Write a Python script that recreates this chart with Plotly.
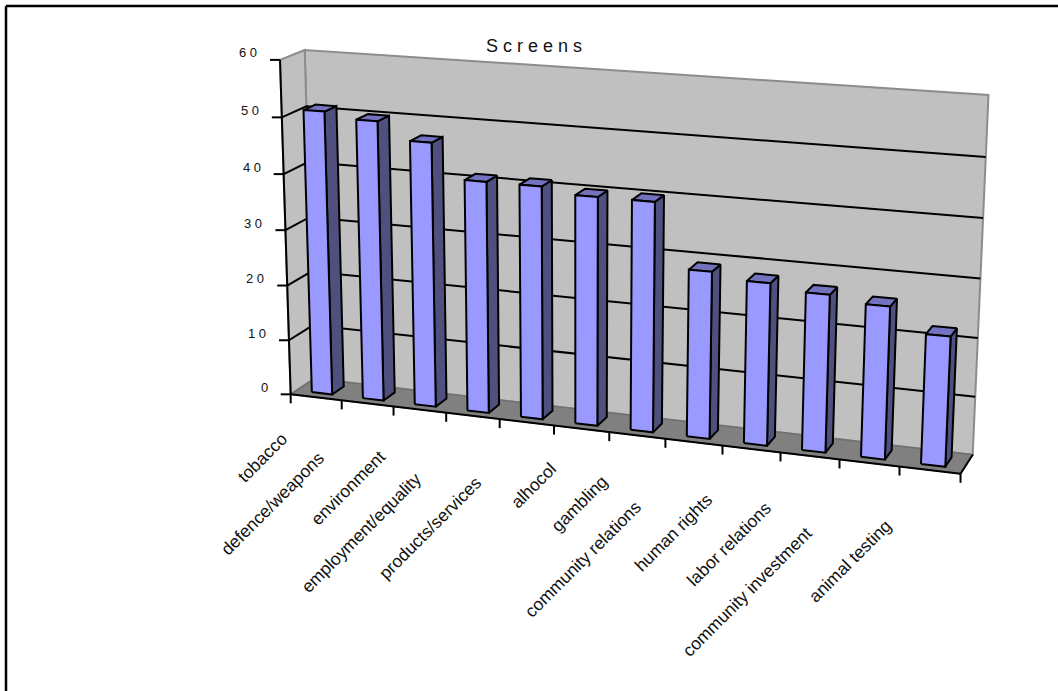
import numpy as np
import plotly.graph_objects as go

# Chart data
categories = ["tobacco", "defence/weapons", "environment", "employment/equality",
              "products/services", "alhocol", "gambling", "community relations",
              "human rights", "labor relations", "community investment", "animal testing"]
screens = [51, 50, 47, 41, 41, 40, 40, 29, 28, 27, 26, 22]
value_ticks = [0, 10, 20, 30, 40, 50, 60]
chart_title = "S c r e e n s"
VMAX = 60

# Centres of the slanted category labels on the page
label_x = [262, 272, 348, 361, 430, 533, 579, 583, 673, 729, 747, 850]
label_y = [458, 504, 488, 533, 528, 486, 504, 559, 533, 544, 592, 561]

WALL, FLOOR, EDGE = "#C0C0C0", "#808080", "#8C8C8C"
FRONT, SIDE, TOP = "#9999FF", "#50507F", "#7272BF"
GAP_U, GAP_D = 0.30, 0.25  # spacing inside a category slot and across the depth

# Camera calibration: box coordinates (across, depth, height) to page pixels
box_refs = [
    ((0, 0, 0), (292, 394)), ((0, 0, 1), (279, 60)),
    ((0, 1, 0), (313, 379)), ((0, 1, 1), (306, 50)),
    ((1, 1, 0), (973, 454)), ((1, 1, 1), (989, 94)),
    ((1, 0, 0), (960, 474)), ((1, 1, 50 / 60), (985, 158)),
    ((1 / 12, 0, 0), (342, 400)), ((3 / 12, 0, 0), (446, 413)),
    ((11 / 12, 0, 0), (900, 467)), ((0, 0, 0.5), (285, 230)),
]


def fit_camera(refs):
    rows = []
    for (a, b, c), (px, py) in refs:
        p = [a, b, c, 1]
        rows.append(p + [0, 0, 0, 0] + [-px * q for q in p])
        rows.append([0, 0, 0, 0] + p + [-py * q for q in p])
    _, _, vt = np.linalg.svd(np.array(rows, float))
    return vt[-1].reshape(3, 4)


CAM = fit_camera(box_refs)


def project(u, d, v):
    """Page position of a point: u across the categories, d depth, v chart value."""
    q = CAM @ np.array([u, d, v / VMAX, 1.0])
    return q[0] / q[2], q[1] / q[2]


def poly(points, **kw):
    xs, ys = zip(*[project(*p) for p in points])
    return go.Scatter(x=list(xs), y=list(ys), mode="lines", hoverinfo="skip", **kw)


def face(points, fill, line="black", width=2):
    closed = list(points) + [points[0]]
    return poly(closed, fill="toself", fillcolor=fill, line=dict(color=line, width=width))


def edge(a, b, color="black", width=2):
    return poly([a, b], line=dict(color=color, width=width))


fig = go.Figure()

# Walls and floor
fig.add_trace(face([(0, 1, 0), (1, 1, 0), (1, 1, VMAX), (0, 1, VMAX)], WALL, EDGE, 2))
fig.add_trace(face([(0, 0, 0), (0, 1, 0), (0, 1, VMAX), (0, 0, VMAX)], WALL, EDGE, 2))
fig.add_trace(face([(0, 0, 0), (1, 0, 0), (1, 1, 0), (0, 1, 0)], FLOOR, "#707070", 1.5))

# Gridlines across the side and back walls
for t in value_ticks[1:-1]:
    fig.add_trace(poly([(0, 0, t), (0, 1, t), (1, 1, t)], line=dict(color="black", width=2)))

# Value axis with its outward ticks
fig.add_trace(edge((0, 0, 0), (0, 0, VMAX)))
fig.add_trace(edge((0, 0, 0), (1, 0, 0)))
fig.add_trace(edge((1, 0, 0), (1, 1, 0)))

tick_x, tick_y = [], []
for t in value_ticks:
    x, y = project(0, 0, t)
    tick_x += [x - 10, x, None]
    tick_y += [y, y, None]
for i in range(len(categories) + 1):
    x, y = project(i / len(categories), 0, 0)
    tick_x += [x, x, None]
    tick_y += [y, y + 9, None]
fig.add_trace(go.Scatter(x=tick_x, y=tick_y, mode="lines", hoverinfo="skip",
                         line=dict(color="black", width=2)))

# One cuboid per category
n = len(categories)
for i, val in enumerate(screens):
    u0 = (i + GAP_U) / n
    u1 = (i + 1 - GAP_U) / n
    d0, d1 = GAP_D, 1 - GAP_D
    fig.add_trace(face([(u1, d0, 0), (u1, d1, 0), (u1, d1, val), (u1, d0, val)], SIDE))
    fig.add_trace(face([(u0, d0, val), (u1, d0, val), (u1, d1, val), (u0, d1, val)], TOP))
    fig.add_trace(face([(u0, d0, 0), (u1, d0, 0), (u1, d0, val), (u0, d0, val)], FRONT))

annotations = []
for t in value_ticks:
    x, y = project(0, 0, t)
    annotations.append(dict(x=x - 21, y=y - 7, text=" ".join(str(t)), showarrow=False,
                            xanchor="right", yanchor="middle",
                            font=dict(size=13, color="#111111")))
for name, x, y in zip(categories, label_x, label_y):
    annotations.append(dict(x=x, y=y, text=name, textangle=-45, showarrow=False,
                            xanchor="center", yanchor="middle",
                            font=dict(size=17.5, color="#111111")))
annotations.append(dict(x=534, y=46, text=chart_title, showarrow=False,
                        xanchor="center", yanchor="middle",
                        font=dict(size=18, color="#111111")))

fig.update_layout(
    width=1058, height=691, margin=dict(l=0, r=0, t=0, b=0),
    paper_bgcolor="white", plot_bgcolor="white", showlegend=False,
    font=dict(family="Liberation Sans"),
    xaxis=dict(range=[0, 1058], visible=False, fixedrange=True),
    yaxis=dict(range=[691, 0], visible=False, fixedrange=True),
    annotations=annotations,
    # Chart frame: only the top and left edges fall inside the page
    shapes=[
        dict(type="line", xref="paper", yref="paper", x0=6 / 1058, x1=1, y0=1 - 6 / 691, y1=1 - 6 / 691,
             line=dict(color="black", width=2.5)),
        dict(type="line", xref="paper", yref="paper", x0=6 / 1058, x1=6 / 1058, y0=0, y1=1 - 6 / 691,
             line=dict(color="black", width=2.5)),
    ],
)

fig.write_html("out.html")
